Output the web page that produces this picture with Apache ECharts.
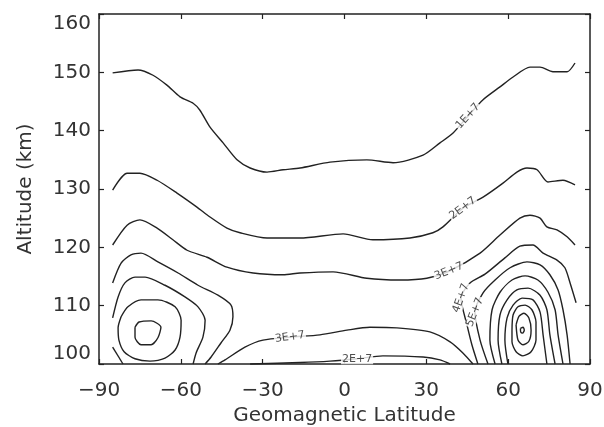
<!DOCTYPE html>
<html>
<head>
<meta charset="utf-8">
<script src="https://cdn.jsdelivr.net/npm/echarts@6/dist/echarts.min.js"></script>
<style>
html, body { margin: 0; padding: 0; background: #fff; }
#chart { width: 604px; height: 427px; }
</style>
</head>
<body>
<div id="chart"></div>
<script>
// Axis ranges (geomagnetic latitude in degrees, altitude in km)
const latTicks = [-90, -60, -30, 0, 30, 60, 90];
const altTicks = [100, 110, 120, 130, 140, 150, 160];

// Contour lines, each as [latitude, altitude] vertices
const contour1E7 = [[-85,149.9],[-75.7,150.4],[-70.2,149.5],[-65.1,147.8],[-60.3,145.8],[-55.5,144.7],[-53,143.5],[-49.3,140.6],[-44.5,137.9],[-39.4,135],[-34.6,133.6],[-28.4,132.9],[-22.5,133.3],[-16.3,133.6],[-5.3,134.6],[8.2,135],[17.8,134.5],[28.8,135.8],[35,137.9],[39.8,139.6],[45.3,142.5],[50.8,145.3],[57,147.5],[61.8,149.2],[68,150.9],[71.7,150.9],[76.4,150.1],[81.6,150.1],[84.5,151.6]];
const contour2E7 = [[-85,129.8],[-79.7,132.7],[-75,132.7],[-68.7,131.5],[-61.4,129.3],[-54.1,126.9],[-49.3,125.2],[-43.1,123.3],[-38.3,122.5],[-28.4,121.6],[-16.3,121.6],[-0.5,122.3],[10.4,121.3],[24,121.6],[32.4,122.5],[36.1,123.5],[43.4,126.7],[50.8,128.6],[58.1,131],[63.2,132.9],[66.9,133.6],[70.6,133.3],[74.6,131.2],[80.1,131.5],[84.5,130.7]];
const contour3E7 = [[-85,120.4],[-79.7,123.8],[-75,124.7],[-68.7,123.3],[-62.9,121.3],[-57.7,119.5],[-50.4,118.3],[-43.1,116.6],[-33.5,115.6],[-22.5,115.3],[-16.3,115.6],[-4.2,115.8],[8.2,114.7],[20.3,114.4],[30.2,114.7],[38.3,115.9],[49.7,119],[57,122.1],[64.3,125],[68,125.5],[71.7,125],[74.2,123.5],[77.9,123],[81.6,121.8],[84.5,120.4]];

// Southern maximum
const south4E7 = [[-85,113.9],[-81.9,117.3],[-78.3,118.7],[-74.6,119],[-68.4,117.5],[-61,115.6],[-53.7,113.5],[-46.4,111.8],[-41.6,110.1],[-40.9,108.1],[-42,105.8],[-45.3,103.6],[-48.9,101.2],[-51.1,100]];
const south5E7 = [[-85,107.9],[-83,111.5],[-80.5,113.9],[-76.8,114.9],[-73.1,114.9],[-65.8,113.5],[-58.5,111.5],[-53.7,109.8],[-51.1,107.5],[-51.9,104.6],[-54.4,101.9],[-55.5,100]];
const southCorner = [[-85,102.9],[-81.2,100]];
const south6E7 = [[-81.9,108.1],[-79.4,109.8],[-74.6,111],[-68.4,111],[-62.1,109.8],[-59.9,107.5],[-60.3,104.6],[-62.1,102.4],[-65.8,101],[-71.3,100.5],[-76.8,100.9],[-80.8,102.1],[-82.7,104.1],[-83,106.2],[-81.9,108.1]];
const south7E7 = [[-76.8,106.3],[-75.3,107.2],[-70.9,107.4],[-67.3,106.3],[-68.4,104.5],[-70.9,103.3],[-74.6,103.3],[-76.8,104.6],[-76.8,106.3]];

// Equatorial minimum near the bottom
const trough3E7 = [[-46.4,100],[-43.8,100.7],[-36.5,102.9],[-29.9,104.1],[-20,104.6],[-9,105],[0.9,105.8],[9.3,106.3],[19.2,106.2],[31.3,105.5],[38.7,103.8],[43.4,101.9],[47.1,100]];
const trough2E7 = [[-34.6,100],[-16.3,100.25],[-5.3,100.5],[4.6,100.9],[14.1,101.4],[28.8,101.2],[35,100.7],[38.7,100]];

// Northern maximum
const north4E7 = [[48.9,100],[46.7,103.3],[44.9,106.7],[42.7,111.3],[46,113.9],[51.5,115.4],[58.8,118.2],[64.3,120.2],[69.1,120.4],[72.8,119],[77.9,117.8],[80.8,116.5],[82.7,113.9],[84.9,110.5]];
const north5E7 = [[52.6,100],[49.7,104.1],[47.8,108.9],[50.8,112.2],[55.2,114.4],[60.7,116.5],[66.9,117.5],[71.7,117],[75.3,115.3],[78.3,112.7],[80.1,109.3],[81.6,105],[82.7,100]];
const north6E7 = [[55.2,100],[53.3,104.1],[54.1,109.3],[57,112.3],[61.4,114.4],[66.2,115.1],[70.9,114.4],[74.6,112.3],[77.2,109.3],[78.3,105],[80.1,100]];
const north7E7 = [[57.7,100],[56.3,104.1],[57,108.4],[59.6,111],[63.2,112.7],[67.3,113],[71.7,111.8],[74.2,109.3],[75.3,105],[77.2,100]];
const north8E7 = [[59.9,100],[58.8,104.1],[59.6,107.9],[61.8,110.1],[65.1,111.3],[69.1,111],[71.7,108.9],[72.8,105],[74.2,100]];
const north9E7 = [[61.4,105.8],[61.8,108.4],[63.6,109.8],[66.2,110.1],[68.7,109.3],[70.2,107.2],[70.2,104.1],[68.4,102.1],[65.4,101.4],[62.9,102.1],[61.4,103.8],[61.4,105.8]];
const north10E7 = [[62.9,106.7],[64,108.2],[65.8,108.7],[67.6,107.9],[68.4,105.8],[67.6,103.9],[65.4,103.3],[63.6,104.1],[62.9,106.7]];
const north11E7 = [[64.5,106.1],[65.5,106.3],[65.9,105.8],[65.3,105.3],[64.6,105.5],[64.5,106.1]];

// Contour level labels
const labelText = ['1E+7', '2E+7', '3E+7', '4E+7', '5E+7', '3E+7', '2E+7'];
const labelPos = [[45.3,142.5],[43.4,126.7],[38.3,115.9],[42.7,111.3],[47.8,108.9],[-20,104.6],[4.6,100.9]];
const labelAngle = [48, 37, 22, 70, 68, 8, 0];

const contours = [contour1E7, contour2E7, contour3E7,
  south4E7, south5E7, southCorner, south6E7, south7E7,
  trough3E7, trough2E7,
  north4E7, north5E7, north6E7, north7E7, north8E7, north9E7, north10E7, north11E7];

const INK = '#222';
const FONT = 'DejaVu Sans';

const lineSeries = contours.map(function (pts) {
  return {
    type: 'line',
    data: pts,
    symbol: 'none',
    smooth: 0.25,
    clip: false,
    silent: true,
    lineStyle: { color: INK, width: 1.4 },
    z: 2
  };
});

const labelSeries = {
  type: 'scatter',
  symbolSize: 0,
  silent: true,
  z: 5,
  data: labelPos.map(function (p, i) {
    return {
      value: p,
      label: {
        show: true,
        formatter: labelText[i],
        rotate: labelAngle[i],
        position: 'inside',
        color: INK,
        fontSize: 11,
        fontFamily: FONT,
        backgroundColor: '#fff',
        padding: [0, 1]
      }
    };
  })
};

const minus = function (v) { return String(v).replace('-', '\u2212'); };

const axisLine = { show: true, onZero: false, lineStyle: { color: INK, width: 1.5 } };
const axisTick = { show: true, inside: true, length: 5, lineStyle: { color: INK, width: 1.2 } };
const tickFont = { fontSize: 20, fontFamily: FONT, color: '#333' };

const chart = echarts.init(document.getElementById('chart'), null, { renderer: 'canvas' });
chart.setOption({
  animation: false,
  backgroundColor: '#fff',
  grid: { left: 99, right: 14, top: 14, bottom: 63, containLabel: false, outerBoundsMode: 'none' },
  xAxis: [{
    type: 'value',
    min: latTicks[0], max: latTicks[latTicks.length - 1], interval: 30,
    position: 'bottom',
    axisLine: axisLine, axisTick: axisTick,
    axisLabel: Object.assign({ margin: 17, formatter: minus }, tickFont),
    splitLine: { show: false },
    name: 'Geomagnetic Latitude',
    nameLocation: 'middle',
    nameGap: 41,
    nameTextStyle: tickFont
  }, {
    type: 'value',
    min: latTicks[0], max: latTicks[latTicks.length - 1], interval: 30,
    position: 'top',
    axisLine: axisLine, axisTick: axisTick,
    axisLabel: { show: false },
    splitLine: { show: false }
  }],
  yAxis: [{
    type: 'value',
    min: altTicks[0], max: altTicks[altTicks.length - 1], interval: 10,
    position: 'left',
    axisLine: axisLine, axisTick: axisTick,
    axisLabel: Object.assign({ margin: 8, verticalAlignMinLabel: 'bottom', verticalAlignMaxLabel: 'top' }, tickFont),
    splitLine: { show: false },
    name: 'Altitude (km)',
    nameLocation: 'middle',
    nameGap: 63,
    nameTextStyle: tickFont
  }, {
    type: 'value',
    min: altTicks[0], max: altTicks[altTicks.length - 1], interval: 10,
    position: 'right',
    axisLine: axisLine, axisTick: axisTick,
    axisLabel: { show: false },
    splitLine: { show: false }
  }],
  series: lineSeries.concat([labelSeries])
});
</script>
</body>
</html>
